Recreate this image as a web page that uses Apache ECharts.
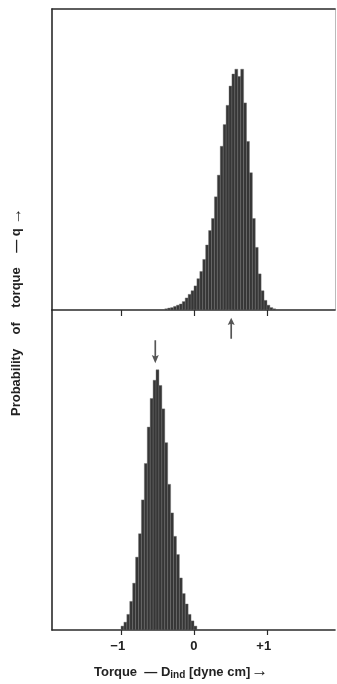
<!DOCTYPE html>
<html>
<head>
<meta charset="utf-8">
<script src="https://cdn.jsdelivr.net/npm/echarts@6/dist/echarts.min.js"></script>
<style>
html,body{margin:0;padding:0;background:#fff;}
#chart{width:337px;height:684px;}
</style>
</head>
<body>
<div id="chart"></div>
<script>
// ---- data ----
const binWidth = 0.04;
const topCenters = [-0.38,-0.34,-0.30,-0.26,-0.22,-0.18,-0.14,-0.10,-0.06,-0.02,0.02,0.06,0.10,0.14,0.18,0.22,0.26,0.30,0.34,0.38,0.42,0.46,0.50,0.54,0.58,0.62,0.66,0.70,0.74,0.78,0.82,0.86,0.90,0.94,0.98,1.02,1.06,1.10];
const topCounts  = [0.5,0.8,1,1.5,2,2.5,3.5,5,6.5,8,10,13,16,21,27,33,38,47,56,68,77,85,93,98,100,97,100,86,70,57,38,26,15,8,4,2,1,0.5];
const bottomCenters = [-0.98,-0.94,-0.90,-0.86,-0.82,-0.78,-0.74,-0.70,-0.66,-0.62,-0.58,-0.54,-0.50,-0.46,-0.42,-0.38,-0.34,-0.30,-0.26,-0.22,-0.18,-0.14,-0.10,-0.06,-0.02,0.02];
const bottomCounts  = [1.5,3,6,11,18,28,37,50,64,78,89,96,100,94,85,72,56,45,36,29,20,14,10,6,3.5,1.5];
const topMean = 0.51;
const bottomMean = -0.53;
const tickValues = [-1, 0, 1];
const tickLabels = ['\u22121', '0', '+1'];

const chart = echarts.init(document.getElementById('chart'), null, {renderer: 'canvas'});

function histData(centers, counts) {
  return centers.map((c, i) => [c - binWidth / 2, c + binWidth / 2, counts[i]]);
}
function renderBin(params, api) {
  const p0 = api.coord([api.value(0), api.value(2)]);
  const p1 = api.coord([api.value(1), 0]);
  return {
    type: 'rect',
    shape: {x: p0[0], y: p0[1], width: p1[0] - p0[0], height: p1[1] - p0[1]},
    style: {fill: '#363636', stroke: '#6e6e6e', lineWidth: 0.4}
  };
}

const AX = '#2a2a2a';
const XMIN = -1.945, XMAX = 1.932;
const arrowPath = 'path://M5,0 L10,14 L6.2,12 L6.2,40 L3.8,40 L3.8,12 L0,14 Z';
const FONT = '"Liberation Sans", Arial, sans-serif';

const option = {
  animation: false,
  backgroundColor: '#fff',
  grid: [
    {left: 52, top: 9, width: 283, height: 301},
    {left: 52, top: 310, width: 283, height: 320}
  ],
  xAxis: [
    {gridIndex: 0, type: 'value', min: XMIN, max: XMAX, position: 'bottom',
     axisLine: {show: true, onZero: false, lineStyle: {color: AX, width: 1.6}},
     axisTick: {show: true, inside: false, length: 6, customValues: tickValues, lineStyle: {color: AX, width: 1.2}},
     axisLabel: {show: false}, splitLine: {show: false}},
    {gridIndex: 0, type: 'value', min: XMIN, max: XMAX, position: 'top',
     axisLine: {show: true, onZero: false, lineStyle: {color: AX, width: 1.6}},
     axisTick: {show: false}, axisLabel: {show: false}, splitLine: {show: false}},
    {gridIndex: 1, type: 'value', min: XMIN, max: XMAX, position: 'bottom',
     axisLine: {show: true, onZero: false, lineStyle: {color: AX, width: 1.6}},
     axisTick: {show: true, inside: false, length: 5, customValues: tickValues, lineStyle: {color: AX, width: 1.2}},
     axisLabel: {show: true, customValues: tickValues, margin: 10,
       color: '#222', fontFamily: FONT, fontWeight: 'bold', fontSize: 13,
       formatter: v => { const i = tickValues.indexOf(Math.round(v)); return i === 1 ? tickLabels[i] : tickLabels[i] + '\u2002'; }},
     splitLine: {show: false}}
  ],
  yAxis: [
    {gridIndex: 0, type: 'value', min: 0, max: 125, position: 'left',
     axisLine: {show: true, onZero: false, lineStyle: {color: AX, width: 1.6}},
     axisTick: {show: false}, axisLabel: {show: false}, splitLine: {show: false}},
    {gridIndex: 0, type: 'value', min: 0, max: 125, position: 'right',
     axisLine: {show: true, onZero: false, lineStyle: {color: '#bbb', width: 1}},
     axisTick: {show: false}, axisLabel: {show: false}, splitLine: {show: false}},
    {gridIndex: 1, type: 'value', min: 0, max: 123, position: 'left',
     axisLine: {show: true, onZero: false, lineStyle: {color: AX, width: 1.6}},
     axisTick: {show: false}, axisLabel: {show: false}, splitLine: {show: false}}
  ],
  series: [
    {type: 'custom', xAxisIndex: 0, yAxisIndex: 0, renderItem: renderBin,
     encode: {x: [0, 1], y: 2}, data: histData(topCenters, topCounts), clip: true},
    {type: 'custom', xAxisIndex: 2, yAxisIndex: 2, renderItem: renderBin,
     encode: {x: [0, 1], y: 2}, data: histData(bottomCenters, bottomCounts), clip: true},
    {type: 'scatter', xAxisIndex: 2, yAxisIndex: 2, symbol: arrowPath, symbolSize: [7, 21],
     itemStyle: {color: '#2a2a2a'}, data: [[topMean, 116]]},
    {type: 'scatter', xAxisIndex: 2, yAxisIndex: 2, symbol: arrowPath, symbolSize: [7, 23], symbolRotate: 180,
     itemStyle: {color: '#2a2a2a'}, data: [[bottomMean, 107]]}
  ],
  graphic: [
    {type: 'text', left: 94, top: 663,
     style: {
       text: 'Torque  \u2014 D{sub|ind} [dyne cm]{arr|\u2192}',
       fill: '#222', font: 'bold 13px ' + FONT,
       rich: {
         sub: {fontSize: 10, fontWeight: 'bold', fontFamily: FONT, padding: [6, 0, 0, 0], fill: '#222'},
         arr: {fontSize: 17, fontWeight: 'bold', fontFamily: FONT, fill: '#222', padding: [0, 0, 2, 1]}
       }
     }},
    {type: 'text', x: 16, y: 416, rotation: Math.PI / 2,
     style: {
       text: 'Probability    of    torque    \u2014 q {arr|\u2192}',
       fill: '#222', font: 'bold 13px ' + FONT,
       verticalAlign: 'middle', align: 'left',
       rich: {arr: {fontSize: 17, fontWeight: 'bold', fontFamily: FONT, fill: '#222'}}
     }}
  ]
};
chart.setOption(option);
</script>
</body>
</html>
